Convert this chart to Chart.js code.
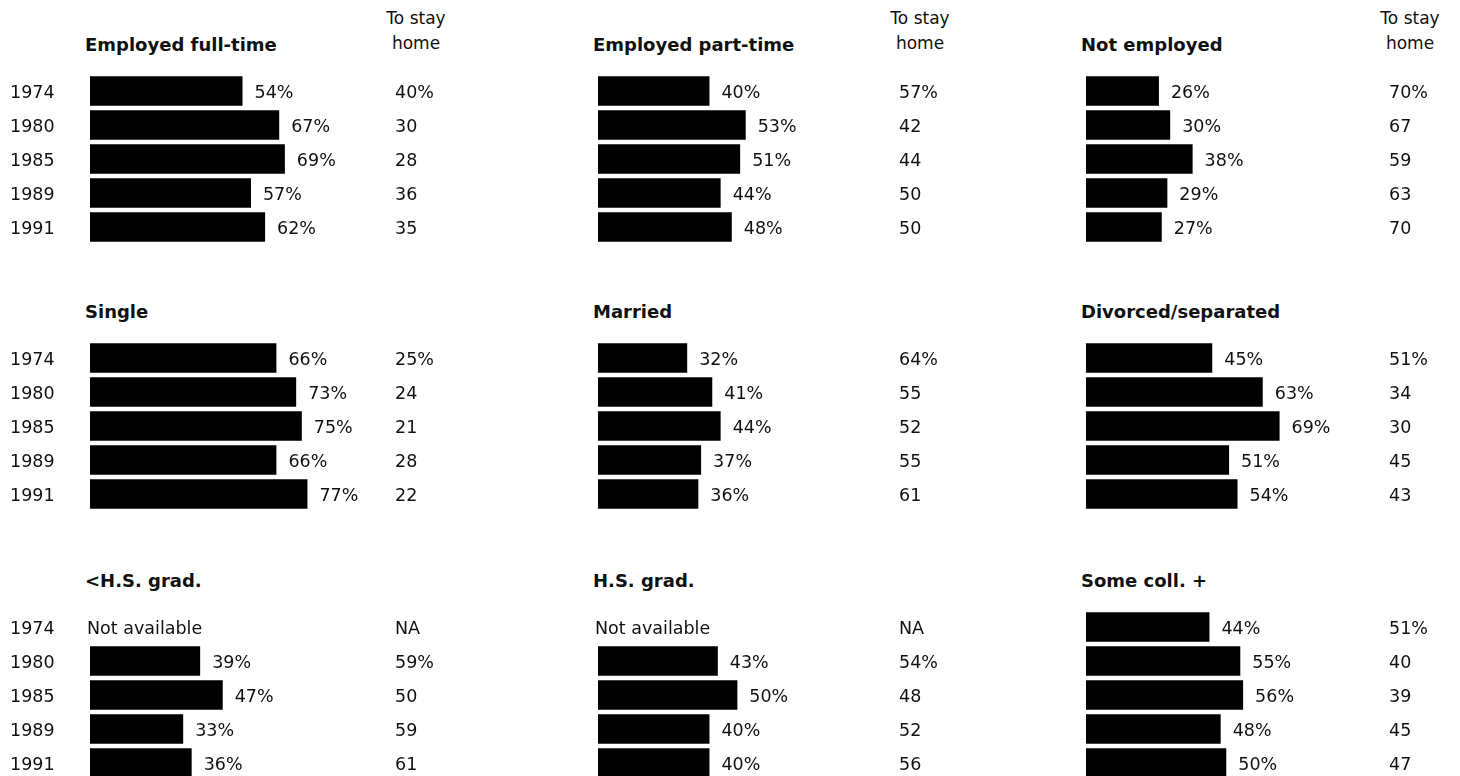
<!DOCTYPE html>
<html>
<head>
<meta charset="utf-8">
<script src="https://cdn.jsdelivr.net/npm/chart.js@4"></script>
<style>
    body {
        margin: 0;
        background: #fff;
        width: 1460px;
        height: 776px;
        overflow: hidden;
        position: relative;
        font-family: "DejaVu Sans", sans-serif;
        color: #111;
    }
    .title {
        position: absolute;
        font-weight: bold;
        font-size: 18px;
        line-height: 20px;
        white-space: nowrap;
    }
    .head {
        position: absolute;
        width: 120px;
        font-size: 17px;
        line-height: 25px;
        text-align: center;
    }
    canvas {
        position: absolute;
    }
</style>
</head>
<body>
<script>
// データここから
const years = ["1974", "1980", "1985", "1989", "1991"];
const titles = [
    "Employed full-time", "Employed part-time", "Not employed",
    "Single", "Married", "Divorced/separated",
    "<H.S. grad.", "H.S. grad.", "Some coll. +",
];
const headLines = ["To stay", "home"];
const notAvailableText = "Not available";

// 働くことを望む (%)
const fullTime = [54, 67, 69, 57, 62];
const partTime = [40, 53, 51, 44, 48];
const notEmployed = [26, 30, 38, 29, 27];
const single = [66, 73, 75, 66, 77];
const married = [32, 41, 44, 37, 36];
const divorced = [45, 63, 69, 51, 54];
const lessHS = [null, 39, 47, 33, 36];
const hsGrad = [null, 43, 50, 40, 40];
const someColl = [44, 55, 56, 48, 50];

// 家にいることを望む (%)
const fullTimeHome = [40, 30, 28, 36, 35];
const partTimeHome = [57, 42, 44, 50, 50];
const notEmployedHome = [70, 67, 59, 63, 70];
const singleHome = [25, 24, 21, 28, 22];
const marriedHome = [64, 55, 52, 55, 61];
const divorcedHome = [51, 34, 30, 45, 43];
const lessHSHome = [null, 59, 50, 59, 61];
const hsGradHome = [null, 54, 48, 52, 56];
const someCollHome = [51, 40, 39, 45, 47];

const workSeries = [fullTime, partTime, notEmployed, single, married, divorced, lessHS, hsGrad, someColl];
const homeSeries = [fullTimeHome, partTimeHome, notEmployedHome, singleHome, marriedHome, divorcedHome, lessHSHome, hsGradHome, someCollHome];
// データここまで

// レイアウトここから
const colLeft = [10, 592, 1080];
const yAxisWidth = [80, 6, 6];
const areaWidth = [305, 301, 303];
const homeWidth = 70;
const rowTop = [74, 341, 610];
const rowPitch = 34;
const xMax = 108;
const fontFamily = "'DejaVu Sans', sans-serif";
const fontSize = 17.5;
const textColor = "#111";
// レイアウトここまで

// 「To stay home」の表記 (最初の値だけ%付き、欠損はNA)
function homeLabels(values) {
    let first = true;
    return values.map(function (v) {
        if (v === null) return "NA";
        if (first) {
            first = false;
            return v + "%";
        }
        return String(v);
    });
}

// 棒の右に値を書くプラグイン
const valueLabels = {
    id: "valueLabels",
    afterDatasetsDraw(chart) {
        const ctx = chart.ctx;
        const data = chart.data.datasets[0].data;
        const meta = chart.getDatasetMeta(0);
        const xScale = chart.scales.x;
        const yScale = chart.scales.y;
        ctx.save();
        ctx.font = fontSize + "px " + fontFamily;
        ctx.fillStyle = textColor;
        ctx.textAlign = "left";
        ctx.textBaseline = "middle";
        for (let i = 0; i < data.length; i++) {
            const y = yScale.getPixelForValue(i) + 2;
            if (data[i] === null) {
                ctx.fillText(notAvailableText, xScale.getPixelForValue(0) - 3, y);
            } else {
                ctx.fillText(data[i] + "%", meta.data[i].x + 12, y);
            }
        }
        ctx.restore();
    },
};

// 軸の幅と上下の余白を固定
function fixAxis(width) {
    return function (scale) {
        scale.width = width;
        scale.paddingTop = 0;
        scale.paddingBottom = 0;
    };
}

function makePanel(index) {
    const col = index % 3;
    const row = Math.floor(index / 3);
    const w = yAxisWidth[col] + areaWidth[col] + homeWidth;
    const h = rowPitch * years.length;
    const left = colLeft[col];
    const top = rowTop[row];

    // タイトル
    const title = document.createElement("div");
    title.className = "title";
    title.textContent = titles[index];
    title.style.left = (left + yAxisWidth[col] - 5) + "px";
    title.style.top = (top + rowPitch / 2 - 56) + "px";
    document.body.appendChild(title);

    // 見出し (1段目のみ)
    if (row === 0) {
        const head = document.createElement("div");
        head.className = "head";
        head.innerHTML = headLines[0] + "<br>" + headLines[1];
        head.style.left = (left + yAxisWidth[col] + areaWidth[col] + 21 - 60) + "px";
        head.style.top = "6px";
        document.body.appendChild(head);
    }

    const canvas = document.createElement("canvas");
    canvas.width = w;
    canvas.height = h;
    canvas.style.width = w + "px";
    canvas.style.height = h + "px";
    canvas.style.left = left + "px";
    canvas.style.top = top + "px";
    document.body.appendChild(canvas);

    const tickFont = { family: fontFamily, size: fontSize };

    new Chart(canvas, {
        type: "bar",
        data: {
            labels: years,
            datasets: [
                {
                    data: workSeries[index],
                    backgroundColor: "#000",
                    borderWidth: 0,
                    barPercentage: 0.87,
                    categoryPercentage: 1,
                },
            ],
        },
        options: {
            indexAxis: "y",
            responsive: false,
            animation: false,
            events: [],
            layout: { padding: 0 },
            plugins: {
                legend: { display: false },
                tooltip: { enabled: false },
            },
            scales: {
                x: { display: false, min: 0, max: xMax },
                y: {
                    grid: { display: false, drawTicks: false },
                    border: { display: false },
                    ticks: {
                        display: col === 0,
                        crossAlign: "far",
                        padding: 0,
                        labelOffset: 2,
                        color: textColor,
                        font: tickFont,
                    },
                    afterFit: fixAxis(yAxisWidth[col]),
                },
                y2: {
                    type: "category",
                    position: "right",
                    labels: homeLabels(homeSeries[index]),
                    offset: true,
                    grid: { display: false, drawTicks: false },
                    border: { display: false },
                    ticks: {
                        padding: 0,
                        labelOffset: 2,
                        color: textColor,
                        font: tickFont,
                    },
                    afterFit: fixAxis(homeWidth),
                },
            },
        },
        plugins: [valueLabels],
    });
}

for (let i = 0; i < titles.length; i++) {
    makePanel(i);
}
</script>
</body>
</html>
